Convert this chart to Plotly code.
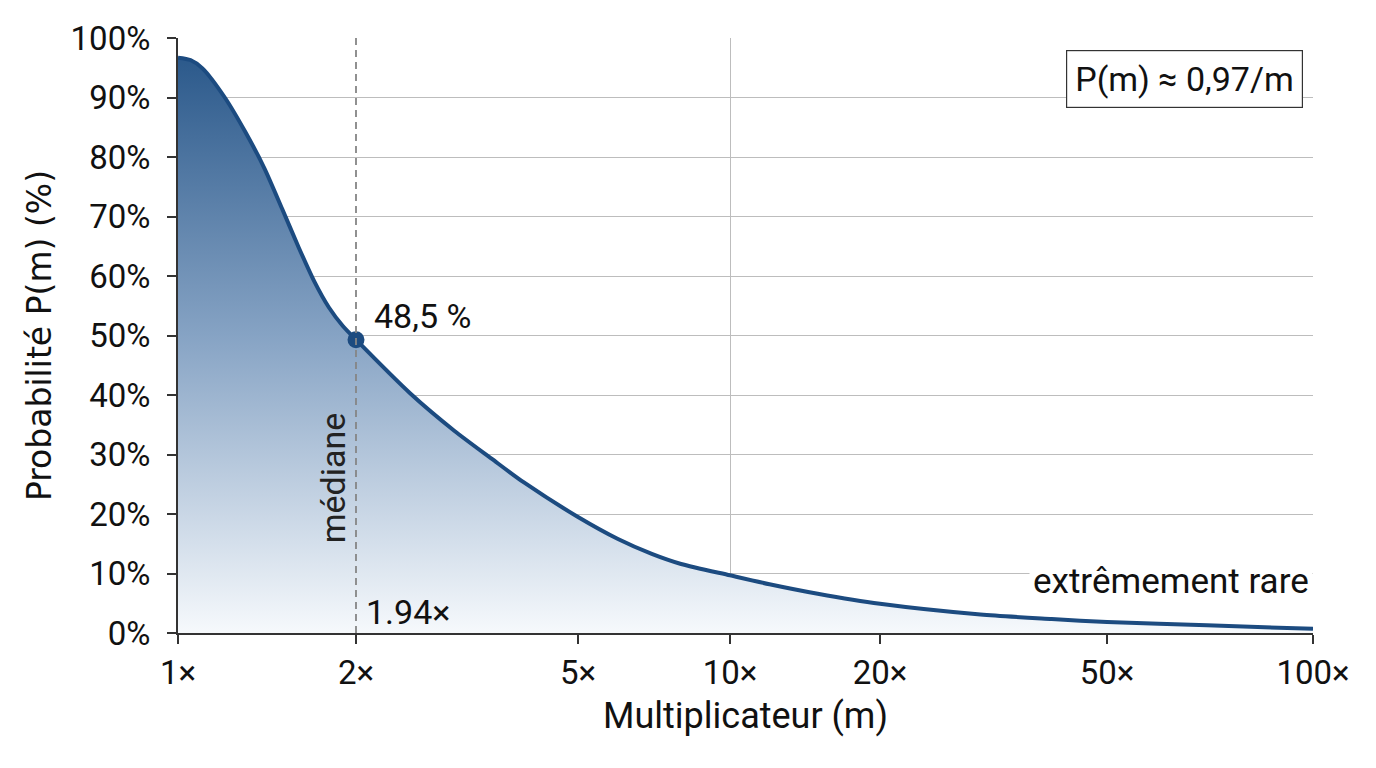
"""Probabilité d'atteindre un multiplicateur m : courbe P(m) avec la médiane."""

import numpy as np
import plotly

# Axis ticks of the multiplier scale
TICK_VALUES = [1, 2, 5, 10, 20, 50, 100]
TICK_LABELS = ['1×', '2×', '5×', '10×', '20×', '50×', '100×']
# The x axis is not a plain log axis: each tick has its own place along it
TICK_POS = [0, 178, 400, 552, 702, 929, 1135]
DECADE_LINES = [10, 100]

# Curve
MULTIPLIERS = [1, 1.05, 1.1, 1.2, 1.3, 1.4, 1.5, 1.6, 1.7, 1.8, 1.9, 2,
               2.5, 3, 3.5, 4, 5, 6, 7, 8, 10, 12, 15, 20, 30, 40, 50, 70, 100]
PROBABILITIES = [96.7, 96.3, 94.9, 90.0, 84.2, 78.1, 71.3, 64.8, 59.1, 54.7, 51.6, 49.3,
                 40.3, 34.0, 29.3, 25.3, 19.5, 15.8, 13.3, 11.6, 9.7, 8.2, 6.6, 4.9, 3.1, 2.35, 1.85, 1.3, 0.7]

MEDIAN_M = 2
MEDIAN_P = 49.3

FONT = 'Roboto, sans-serif'
LINE_COLOR = '#1c4b80'


def to_position(m):
    """Map a multiplier onto the custom x scale (log interpolation between ticks)."""
    return np.interp(np.log10(m), np.log10(TICK_VALUES), TICK_POS)


def build_figure() -> plotly.graph_objs.Figure:
    """Build the P(m) chart."""
    fig = plotly.graph_objs.Figure()

    # Filled curve with vertical gradient
    fig.add_trace(plotly.graph_objs.Scatter(
        x=to_position(MULTIPLIERS),
        y=PROBABILITIES,
        mode='lines',
        line=dict(color=LINE_COLOR, width=4, shape='spline', smoothing=0.7),
        fill='tozeroy',
        fillgradient=dict(type='vertical', start=0, stop=100,
                          colorscale=[[0, '#f6f9fc'], [0.5, '#86a3c4'], [1, '#255487']]),
        hoverinfo='skip',
        showlegend=False
    ))

    # Median marker
    fig.add_trace(plotly.graph_objs.Scatter(
        x=[to_position(MEDIAN_M)],
        y=[MEDIAN_P],
        mode='markers',
        marker=dict(color=LINE_COLOR, size=17),
        showlegend=False
    ))

    # Dashed median line
    fig.add_shape(type='line', xref='x', yref='y',
                  x0=to_position(MEDIAN_M), x1=to_position(MEDIAN_M), y0=0, y1=100,
                  line=dict(color='#858585', width=1.8, dash='7px,5px'), layer='above')

    fig.add_annotation(x=to_position(MEDIAN_M), y=MEDIAN_P, xshift=16, yshift=24,
                       text='48,5 %', showarrow=False, xanchor='left', yanchor='middle',
                       font=dict(family=FONT, size=34, color='#111'))
    fig.add_annotation(x=to_position(MEDIAN_M), y=26, xshift=-23,
                       text='médiane', showarrow=False, textangle=-90,
                       font=dict(family=FONT, size=34, color='#222'))
    fig.add_annotation(x=to_position(MEDIAN_M), y=3.5, xshift=8,
                       text='1.94×', showarrow=False, xanchor='left', yanchor='middle',
                       font=dict(family=FONT, size=34, color='#111'))
    fig.add_annotation(x=to_position(100), y=8.6,
                       text='extrêmement rare', showarrow=False, xanchor='right', yanchor='middle',
                       bgcolor='white', borderpad=3,
                       font=dict(family=FONT, size=35, color='#111'))
    fig.add_annotation(xref='paper', yref='paper', x=0.991, y=0.98,
                       text='P(m) ≈ 0,97/m', showarrow=False, xanchor='right', yanchor='top',
                       bgcolor='white', bordercolor='#333', borderwidth=1.2, borderpad=8,
                       font=dict(family=FONT, size=34, color='#111'))

    # The page keeps an 8px body margin, so the figure is a bit smaller than the window
    fig.update_layout(
        width=1360, height=752,
        margin=dict(l=170, r=55, t=30, b=127),
        plot_bgcolor='white', paper_bgcolor='white',
        font=dict(family=FONT, size=33, color='#111'),
        xaxis=dict(
            range=[0, TICK_POS[-1]],
            tickmode='array', tickvals=TICK_POS, ticktext=TICK_LABELS,
            showgrid=False, zeroline=False,
            showline=True, linecolor='#333', linewidth=2,
            ticks='outside', ticklen=9, tickcolor='#333', tickwidth=1.5,
            minor=dict(tickmode='array', tickvals=list(to_position(DECADE_LINES)),
                       showgrid=True, gridcolor='#bdbdbd', gridwidth=1, ticks=''),
            title=dict(text='Multiplicateur (m)', standoff=12, font=dict(size=36))
        ),
        yaxis=dict(
            range=[0, 100], dtick=10, ticksuffix='%',
            showgrid=True, gridcolor='#bdbdbd', gridwidth=1, zeroline=False,
            showline=True, linecolor='#333', linewidth=2,
            ticks='outside', ticklen=9, tickcolor='#333', tickwidth=1.5,
            ticklabelstandoff=10,
            title=dict(text='Probabilité P(m) (%)', standoff=9,
                       font=dict(family='DejaVu Sans', size=33))
        )
    )
    return fig


if __name__ == '__main__':
    figure = build_figure()
    figure.write_html('out.html')
